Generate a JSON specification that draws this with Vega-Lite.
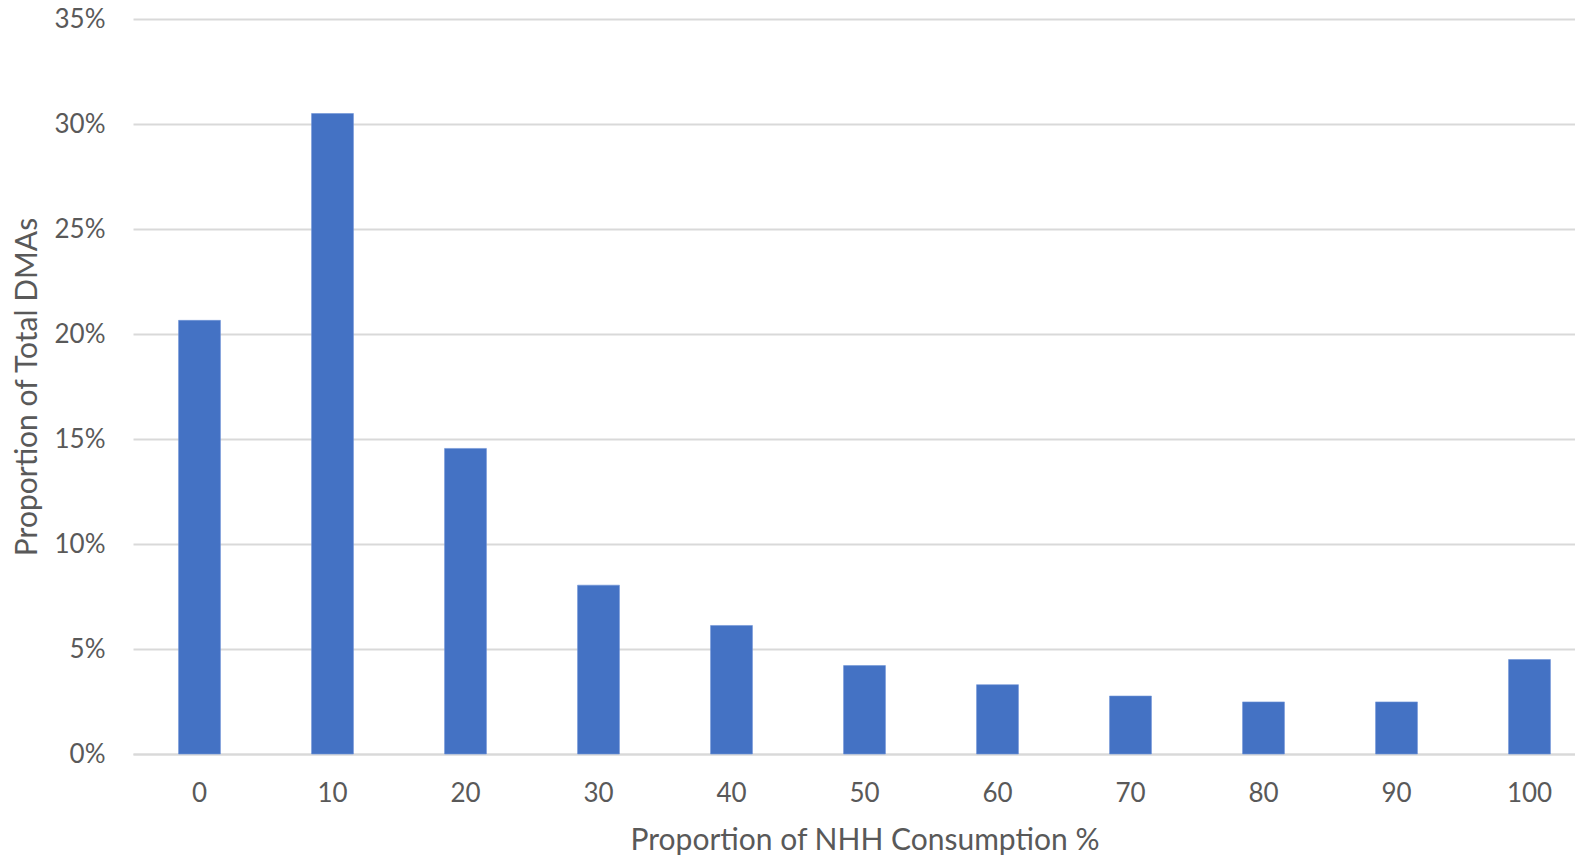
{
  "$schema": "https://vega.github.io/schema/vega-lite/v6.json",
  "width": 1463,
  "height": 735,
  "autosize": "none",
  "padding": {"left": 133, "top": 19, "right": 0, "bottom": 102},
  "background": "white",
  "config": {
    "view": {"stroke": null},
    "font": "Lato",
    "axis": {"labelFont": "Lato", "titleFont": "Lato", "labelColor": "#595959", "titleColor": "#595959", "titleFontWeight": "normal"}
  },
  "data": {
    "values": [
      {"nhh": "0", "share": 0.2065},
      {"nhh": "10", "share": 0.305},
      {"nhh": "20", "share": 0.1455},
      {"nhh": "30", "share": 0.0804},
      {"nhh": "40", "share": 0.0612},
      {"nhh": "50", "share": 0.0421},
      {"nhh": "60", "share": 0.033},
      {"nhh": "70", "share": 0.0276},
      {"nhh": "80", "share": 0.0248},
      {"nhh": "90", "share": 0.0248},
      {"nhh": "100", "share": 0.045}
    ]
  },
  "mark": {"type": "bar", "color": "#4472C4", "stroke": "#6f93d6", "strokeWidth": 0.6},
  "encoding": {
    "x": {
      "field": "nhh",
      "type": "ordinal",
      "sort": null,
      "title": "Proportion of NHH Consumption %",
      "scale": {"paddingInner": 0.685, "paddingOuter": 0.3425},
      "axis": {
        "labelAngle": 0,
        "labelFontSize": 26,
        "labelPadding": 26,
        "ticks": false,
        "domainColor": "#d9d9d9",
        "domainWidth": 2,
        "titleFontSize": 30,
        "titlePadding": 19
      }
    },
    "y": {
      "field": "share",
      "type": "quantitative",
      "title": "Proportion of Total DMAs",
      "scale": {"domain": [0, 0.35], "nice": false},
      "axis": {
        "values": [0, 0.05, 0.1, 0.15, 0.2, 0.25, 0.3, 0.35],
        "format": ".0%",
        "labelFontSize": 26,
        "labelPadding": 28,
        "ticks": false,
        "domain": false,
        "gridColor": "#d9d9d9",
        "gridWidth": 2,
        "titleFontSize": 30,
        "titlePadding": 12
      }
    }
  }
}
